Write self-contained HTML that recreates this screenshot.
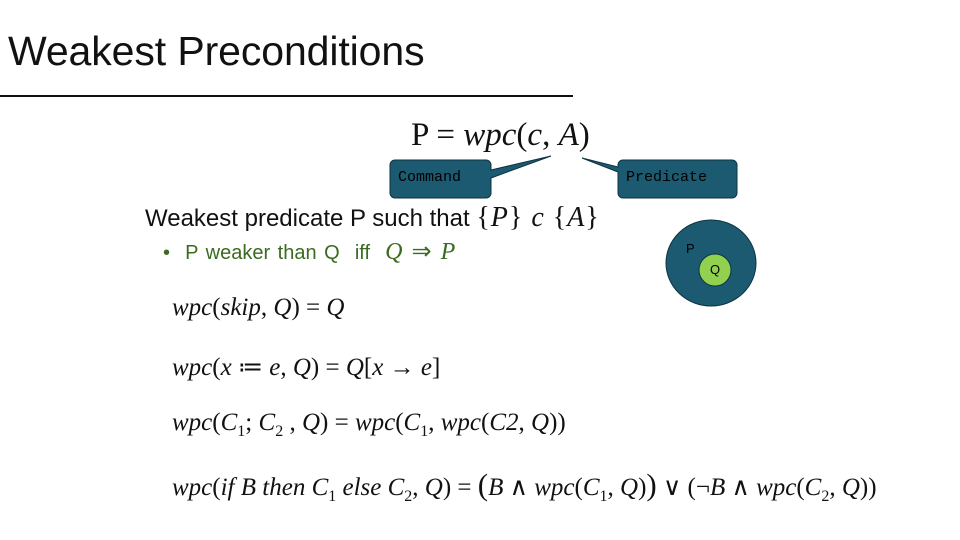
<html><head><style>
body{margin:0;width:960px;height:540px;background:#fff;position:relative;overflow:hidden;font-family:"Liberation Sans",sans-serif}
.a{position:absolute;white-space:nowrap}
.m{font-family:"Liberation Serif",serif;font-style:italic;font-size:25px;color:#111}
.r{font-style:normal}
sub{font-size:16px}
</style></head><body>
<div class="a" style="left:8px;top:28px;font-size:41px;color:#111;letter-spacing:-0.1px">Weakest Preconditions</div>
<div class="a" style="left:0;top:95px;width:573px;height:2px;background:#111"></div>
<div class="a m" style="left:411px;top:117px;font-size:33px"><span class="r">P = </span>wpc<span class="r">(</span>c<span class="r">, </span>A<span class="r">)</span></div>
<svg class="a" style="left:0;top:0" width="960" height="540">
<path d="M395,160 H486 A5,5 0 0 1 491,165 V170 L551,156 L491,178 V193 A5,5 0 0 1 486,198 H395 A5,5 0 0 1 390,193 V165 A5,5 0 0 1 395,160 Z" fill="#1b5a70" stroke="#0e3340" stroke-width="1"/>
<path d="M623,160 H732 A5,5 0 0 1 737,165 V193 A5,5 0 0 1 732,198 H623 A5,5 0 0 1 618,193 V172 L582,158 L618,167 V165 A5,5 0 0 1 623,160 Z" fill="#1b5a70" stroke="#0e3340" stroke-width="1"/>
<ellipse cx="711" cy="263" rx="45" ry="43" fill="#1b5a70" stroke="#0e3340"/>
<circle cx="715" cy="270" r="16" fill="#92d050" stroke="#0e3340"/>
</svg>
<div class="a" style="left:398px;top:169px;font-family:'Liberation Mono',monospace;font-size:15px;color:#000">Command</div>
<div class="a" style="left:626px;top:169px;font-family:'Liberation Mono',monospace;font-size:15px;color:#000">Predicate</div>
<div class="a" style="left:686px;top:241px;font-size:13px;color:#000">P</div>
<div class="a" style="left:710px;top:262px;font-size:13px;color:#000">Q</div>
<div class="a" style="left:145px;top:202px;font-size:24px;color:#111">Weakest predicate P such that <span class="m" style="font-size:28px;letter-spacing:1px"><span class="r">{</span>P<span class="r">}</span> c <span class="r">{</span>A<span class="r">}</span></span></div>
<div class="a" style="left:163px;top:237px;font-size:20px;color:#3a6b1e;word-spacing:2px">• &nbsp;P weaker than Q &nbsp;iff &nbsp;<span class="m" style="color:#3a6b1e;font-size:24px;word-spacing:3px">Q <span class="r">⇒</span> P</span></div>
<div class="a m" style="left:172px;top:294px">wpc<span class="r">(</span>skip<span class="r">, </span>Q<span class="r">) = </span>Q</div>
<div class="a m" style="left:172px;top:352px">wpc<span class="r">(</span>x <span class="r">≔</span> e<span class="r">, </span>Q<span class="r">) = </span>Q<span class="r">[</span>x <span class="r">→</span> e<span class="r">]</span></div>
<div class="a m" style="left:172px;top:409px">wpc<span class="r">(</span>C<sub class="r">1</sub><span class="r">; </span>C<sub class="r">2</sub><span class="r"> , </span>Q<span class="r">) = </span>wpc<span class="r">(</span>C<sub class="r">1</sub><span class="r">, </span>wpc<span class="r">(</span>C2<span class="r">, </span>Q<span class="r">))</span></div>
<div class="a m" style="left:172px;top:467px">wpc<span class="r">(</span>if B then C<sub class="r">1</sub> else C<sub class="r">2</sub><span class="r">, </span>Q<span class="r">) = </span><span class="r" style="font-size:31px">(</span>B <span class="r">∧</span> wpc<span class="r">(</span>C<sub class="r">1</sub><span class="r">, </span>Q<span class="r">)</span><span class="r" style="font-size:31px">)</span> <span class="r">∨ (¬</span>B <span class="r">∧</span> wpc<span class="r">(</span>C<sub class="r">2</sub><span class="r">, </span>Q<span class="r">))</span></div>
</body></html>
